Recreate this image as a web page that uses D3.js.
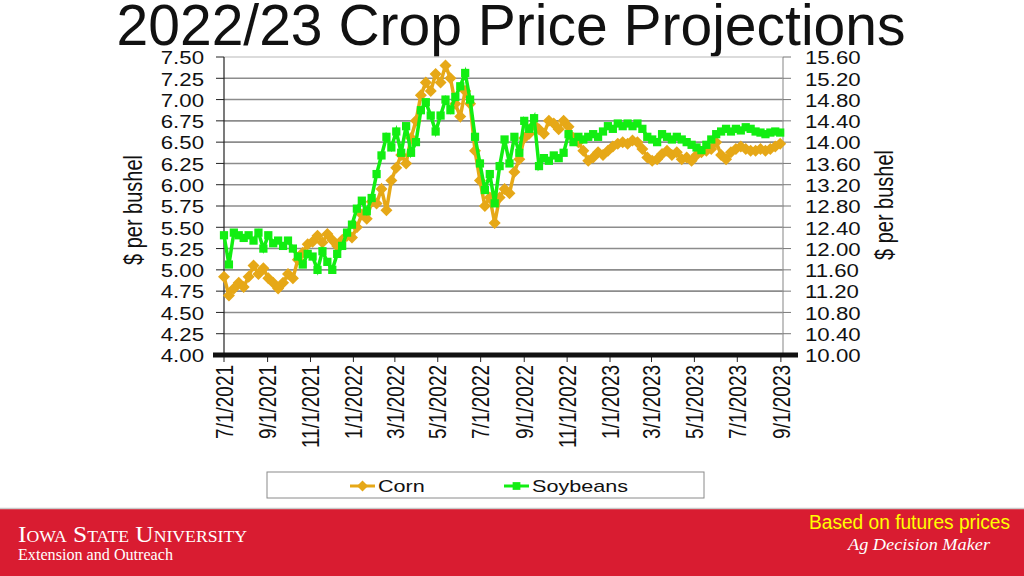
<!DOCTYPE html>
<html>
<head>
<meta charset="utf-8">
<script src="https://cdn.jsdelivr.net/npm/d3@7"></script>
<style>
  body { margin: 0; background: #fff; }
  svg { display: block; }
</style>
</head>
<body>
<svg id="chart" width="1024" height="576"></svg>
<script>
'use strict';

var d3 = window.d3;

// weekly readings, first one on 7/1/2021
var startDate = new Date(2021, 6, 1);
var corn = [
  4.92, 4.70, 4.78, 4.85, 4.80, 4.92, 5.05, 4.95, 5.02, 4.90,
  4.85, 4.78, 4.85, 4.95, 4.90, 5.12, 5.20, 5.30, 5.33, 5.40,
  5.32, 5.42, 5.35, 5.28, 5.35, 5.40, 5.38, 5.50, 5.65, 5.60,
  5.80, 5.78, 5.95, 5.70, 6.05, 6.20, 6.35, 6.25, 6.55, 6.75,
  7.05, 7.20, 7.10, 7.30, 7.20, 7.40, 7.25, 6.95, 6.80, 7.10,
  6.95, 6.40, 6.05, 5.75, 5.85, 5.55, 5.85, 5.95, 5.90, 6.15,
  6.30, 6.55, 6.60, 6.70, 6.65, 6.60, 6.75, 6.72, 6.65, 6.75,
  6.68, 6.55, 6.50, 6.40, 6.28, 6.32, 6.38, 6.35, 6.40, 6.45,
  6.48, 6.50, 6.48, 6.52, 6.50, 6.42, 6.32, 6.28, 6.30, 6.36,
  6.40, 6.35, 6.38, 6.30, 6.32, 6.28, 6.35, 6.38, 6.40, 6.42,
  6.50, 6.35, 6.30, 6.38, 6.42, 6.45, 6.42, 6.40, 6.40, 6.42,
  6.40, 6.42, 6.45, 6.48
];
var soybeans = [
  12.25, 11.70, 12.30, 12.25, 12.20, 12.25, 12.15, 12.30, 12.00, 12.25,
  12.10, 12.15, 12.05, 12.15, 12.00, 11.85, 11.70, 11.90, 11.85, 11.60,
  11.95, 11.75, 11.60, 11.90, 12.05, 12.30, 12.45, 12.75, 12.90, 12.70,
  12.95, 13.40, 13.75, 14.10, 13.90, 14.20, 13.80, 14.30, 13.80, 14.00,
  14.60, 14.75, 14.50, 14.20, 14.50, 14.80, 14.60, 14.85, 15.05, 15.30,
  14.80, 14.10, 13.60, 13.10, 13.40, 12.85, 13.55, 14.05, 13.60, 14.10,
  13.80, 14.40, 14.25, 14.45, 13.55, 13.70, 13.65, 13.75, 13.70, 13.80,
  14.15, 14.00, 14.10, 14.05, 14.10, 14.15, 14.10, 14.20, 14.30, 14.25,
  14.35, 14.30, 14.35, 14.30, 14.35, 14.25, 14.10, 14.05, 14.00, 14.15,
  14.10, 14.05, 14.10, 14.05, 14.00, 13.95, 13.90, 13.85, 13.95, 14.05,
  14.15, 14.20, 14.25, 14.20, 14.25, 14.22, 14.28, 14.25, 14.20, 14.18,
  14.15, 14.18, 14.20, 14.18
];
var cornTicks = [4.00, 4.25, 4.50, 4.75, 5.00, 5.25, 5.50, 5.75, 6.00, 6.25, 6.50, 6.75, 7.00, 7.25, 7.50];
var soyTicks = [10.00, 10.40, 10.80, 11.20, 11.60, 12.00, 12.40, 12.80, 13.20, 13.60, 14.00, 14.40, 14.80, 15.20, 15.60];
var dateTicks = ['7/1/2021', '9/1/2021', '11/1/2021', '1/1/2022', '3/1/2022', '5/1/2022', '7/1/2022',
  '9/1/2022', '11/1/2022', '1/1/2023', '3/1/2023', '5/1/2023', '7/1/2023', '9/1/2023'];
var seriesNames = ['Corn', 'Soybeans'];

var colors = { corn: '#e6a817', soy: '#12ee12', grid: '#8c8c8c' };
var stretch = 'scale(1.27,1)';   // the chart picture is widened on the slide
var sans = 'Liberation Sans, Arial, sans-serif';
var serif = 'Liberation Serif, Times New Roman, serif';

var svg = d3.select('#chart');
var parseDate = d3.timeParse('%m/%d/%Y');

var x = d3.scaleTime()
  .domain([startDate, new Date(2023, 8, 4)])
  .range([224, 783]);
var yCorn = d3.scaleLinear().domain([4, 7.5]).range([355, 57]);
var ySoy = d3.scaleLinear().domain([10, 15.6]).range([355, 57]);

function dateAt(i) { return d3.timeDay.offset(startDate, 7 * i); }

// title
svg.append('text')
  .attr('x', 511).attr('y', 45)
  .attr('text-anchor', 'middle')
  .attr('font-family', sans)
  .attr('font-size', 57)
  .attr('fill', '#111')
  .text('2022/23 Crop Price Projections');

// grid lines
svg.append('g').selectAll('line')
  .data(cornTicks.slice(1))
  .enter().append('line')
  .attr('x1', 224).attr('x2', 783)
  .attr('y1', function (d) { return yCorn(d); })
  .attr('y2', function (d) { return yCorn(d); })
  .attr('stroke', function (d) { return d === 7.5 ? '#cfcfcf' : colors.grid; })
  .attr('stroke-width', 1.6);

// left axis
var leftAxis = svg.append('g').attr('font-family', sans);
leftAxis.append('line')
  .attr('x1', 224).attr('x2', 224).attr('y1', 57).attr('y2', 355)
  .attr('stroke', '#222').attr('stroke-width', 1.2);
leftAxis.selectAll('line.tick')
  .data(cornTicks)
  .enter().append('line')
  .attr('class', 'tick')
  .attr('x1', 216).attr('x2', 224)
  .attr('y1', function (d) { return yCorn(d); })
  .attr('y2', function (d) { return yCorn(d); })
  .attr('stroke', '#222');
leftAxis.selectAll('text')
  .data(cornTicks)
  .enter().append('text')
  .attr('transform', function (d) { return 'translate(204,' + (yCorn(d) + 1) + ') ' + stretch; })
  .attr('dy', '0.36em')
  .attr('text-anchor', 'end')
  .attr('font-size', 17.5)
  .attr('fill', '#111')
  .text(function (d) { return d.toFixed(2); });

// right axis
var rightAxis = svg.append('g').attr('font-family', sans);
rightAxis.append('line')
  .attr('x1', 783).attr('x2', 783).attr('y1', 57).attr('y2', 355)
  .attr('stroke', '#999').attr('stroke-width', 1.2);
rightAxis.selectAll('line.tick')
  .data(soyTicks)
  .enter().append('line')
  .attr('class', 'tick')
  .attr('x1', 783).attr('x2', 791)
  .attr('y1', function (d) { return ySoy(d); })
  .attr('y2', function (d) { return ySoy(d); })
  .attr('stroke', '#777');
rightAxis.selectAll('text')
  .data(soyTicks)
  .enter().append('text')
  .attr('transform', function (d) { return 'translate(805,' + (ySoy(d) + 1) + ') ' + stretch; })
  .attr('dy', '0.36em')
  .attr('font-size', 17.5)
  .attr('fill', '#111')
  .text(function (d) { return d.toFixed(2); });

// axis titles
[[133, 210], [884, 205]].forEach(function (p) {
  svg.append('text')
    .attr('transform', 'translate(' + p[0] + ',' + p[1] + ') ' + stretch + ' rotate(-90)')
    .attr('dy', '0.36em')
    .attr('text-anchor', 'middle')
    .attr('font-family', sans)
    .attr('font-size', 20)
    .attr('fill', '#111')
    .text('$ per bushel');
});

// bottom axis
var bottomAxis = svg.append('g').attr('font-family', sans);
bottomAxis.selectAll('line')
  .data(dateTicks)
  .enter().append('line')
  .attr('x1', function (d) { return x(parseDate(d)); })
  .attr('x2', function (d) { return x(parseDate(d)); })
  .attr('y1', 355).attr('y2', 362)
  .attr('stroke', '#222');
bottomAxis.selectAll('text')
  .data(dateTicks)
  .enter().append('text')
  .attr('transform', function (d) {
    return 'translate(' + x(parseDate(d)) + ',365) ' + stretch + ' rotate(-90)';
  })
  .attr('dy', '0.36em')
  .attr('text-anchor', 'end')
  .attr('font-size', 19)
  .attr('fill', '#111')
  .text(function (d) { return d; });
bottomAxis.append('line')
  .attr('x1', 213).attr('x2', 798).attr('y1', 355).attr('y2', 355)
  .attr('stroke', '#111').attr('stroke-width', 5);

// markers: corn is a square turned 45 degrees, soybeans a plain square
function markerTransform(px, py, turn) {
  return 'translate(' + px + ',' + py + ')' + (turn ? ' rotate(45)' : '');
}

function drawSeries(values, yScale, color, size, turn) {
  var g = svg.append('g');
  var line = d3.line()
    .x(function (d, i) { return x(dateAt(i)); })
    .y(function (d) { return yScale(d); });
  g.append('path')
    .attr('d', line(values))
    .attr('fill', 'none')
    .attr('stroke', color)
    .attr('stroke-width', 3.5);
  g.selectAll('path.mark')
    .data(values)
    .enter().append('path')
    .attr('class', 'mark')
    .attr('d', d3.symbol().type(d3.symbolSquare).size(size))
    .attr('transform', function (d, i) {
      return markerTransform(x(dateAt(i)), yScale(d), turn);
    })
    .attr('fill', color);
}
drawSeries(corn, yCorn, colors.corn, 72, true);
drawSeries(soybeans, ySoy, colors.soy, 68, false);

// legend
var legend = svg.append('g').attr('font-family', sans);
legend.append('rect')
  .attr('x', 267).attr('y', 472).attr('width', 437).attr('height', 26)
  .attr('fill', '#fff').attr('stroke', '#8a8a8a');
var legendItems = [
  { name: seriesNames[0], color: colors.corn, size: 60, turn: true, x: 350 },
  { name: seriesNames[1], color: colors.soy, size: 60, turn: false, x: 504 }
];
legendItems.forEach(function (it) {
  legend.append('line')
    .attr('x1', it.x).attr('x2', it.x + 25).attr('y1', 486).attr('y2', 486)
    .attr('stroke', it.color).attr('stroke-width', 3);
  legend.append('path')
    .attr('d', d3.symbol().type(d3.symbolSquare).size(it.size))
    .attr('transform', markerTransform(it.x + 12.5, 486, it.turn))
    .attr('fill', it.color);
  legend.append('text')
    .attr('transform', 'translate(' + (it.x + 28) + ',486) ' + stretch)
    .attr('dy', '0.36em')
    .attr('font-size', 17)
    .attr('fill', '#111')
    .text(it.name);
});

// footer band
var footer = svg.append('g');
footer.append('rect')
  .attr('x', 0).attr('y', 508).attr('width', 1024).attr('height', 68)
  .attr('fill', '#d91c31');
footer.append('line')
  .attr('x1', 0).attr('x2', 1024).attr('y1', 508.5).attr('y2', 508.5)
  .attr('stroke', '#c9c9c9').attr('stroke-width', 1.5);
footer.append('text')
  .attr('x', 18).attr('y', 542)
  .attr('font-family', serif)
  .attr('font-size', 23)
  .attr('font-variant', 'small-caps')
  .attr('textLength', 229).attr('lengthAdjust', 'spacingAndGlyphs')
  .attr('fill', '#fff')
  .text('Iowa State University');
footer.append('text')
  .attr('x', 18).attr('y', 560)
  .attr('font-family', serif)
  .attr('font-size', 16)
  .attr('textLength', 155).attr('lengthAdjust', 'spacingAndGlyphs')
  .attr('fill', '#fff')
  .text('Extension and Outreach');
footer.append('text')
  .attr('x', 809).attr('y', 529)
  .attr('font-family', sans)
  .attr('font-size', 19.5)
  .attr('textLength', 201).attr('lengthAdjust', 'spacingAndGlyphs')
  .attr('fill', '#ffff00')
  .text('Based on futures prices');
footer.append('text')
  .attr('x', 848).attr('y', 550)
  .attr('font-family', serif)
  .attr('font-style', 'italic')
  .attr('font-size', 17)
  .attr('textLength', 142).attr('lengthAdjust', 'spacingAndGlyphs')
  .attr('fill', '#fff')
  .text('Ag Decision Maker');
</script>
</body>
</html>
